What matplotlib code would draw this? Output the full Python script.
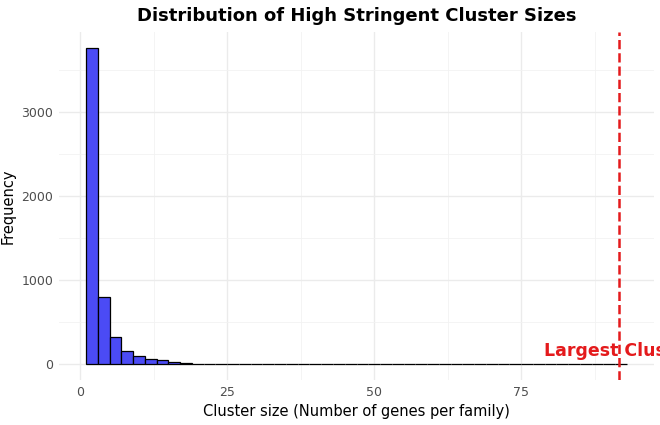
import numpy as np
import matplotlib.pyplot as plt

# histogram counts, binwidth 2 starting at 1
bin_start = 1
binwidth = 2
counts = [3760, 798, 321, 158, 95, 63, 51, 27, 12, 8, 5, 4, 3, 2, 2, 1, 1, 1, 1, 1,
          1, 1, 1, 1, 0, 1, 0, 1, 0, 1, 0, 0, 1, 0, 0, 1, 0, 0, 0, 1, 0, 0, 0, 0, 0, 1]
largest = 91.7

fig = plt.figure(figsize=(6.6, 4.25), dpi=100)
ax = fig.add_axes([59/660, 1-380/425, (654-59)/660, (380-32)/425])

edges = bin_start + binwidth*np.arange(len(counts))
ax.bar(edges, counts, width=binwidth, align='edge', color='#4B4BF5',
       edgecolor='black', linewidth=0.9, zorder=3)
ax.axvline(largest, color='#E41A1C', linestyle='--', linewidth=1.8, zorder=4)
ax.text(largest, 160, 'Largest Cluster', color='#E41A1C', fontsize=12.5,
        fontweight='bold', ha='center', va='center', clip_on=False, zorder=5)

ax.set_xlim(-3.6, 97.6)
ax.set_ylim(-188, 3948)
ax.set_xticks([0, 25, 50, 75])
ax.set_yticks([0, 1000, 2000, 3000])
ax.set_xticks([12.5, 37.5, 62.5, 87.5], minor=True)
ax.set_yticks([500, 1500, 2500, 3500], minor=True)
ax.grid(True, which='major', color='#EBEBEB', linewidth=1, zorder=0)
ax.grid(True, which='minor', color='#F2F2F2', linewidth=0.6, zorder=0)
for s in ax.spines.values():
    s.set_visible(False)
ax.tick_params(which='both', length=0, labelsize=9, colors='#4D4D4D', pad=4)
ax.set_xlabel('Cluster size (Number of genes per family)', fontsize=10.5)
ax.set_ylabel('Frequency', fontsize=10.5)
ax.set_title('Distribution of High Stringent Cluster Sizes', fontsize=13,
             fontweight='bold', pad=8)

fig.savefig('out.png', dpi=100)
